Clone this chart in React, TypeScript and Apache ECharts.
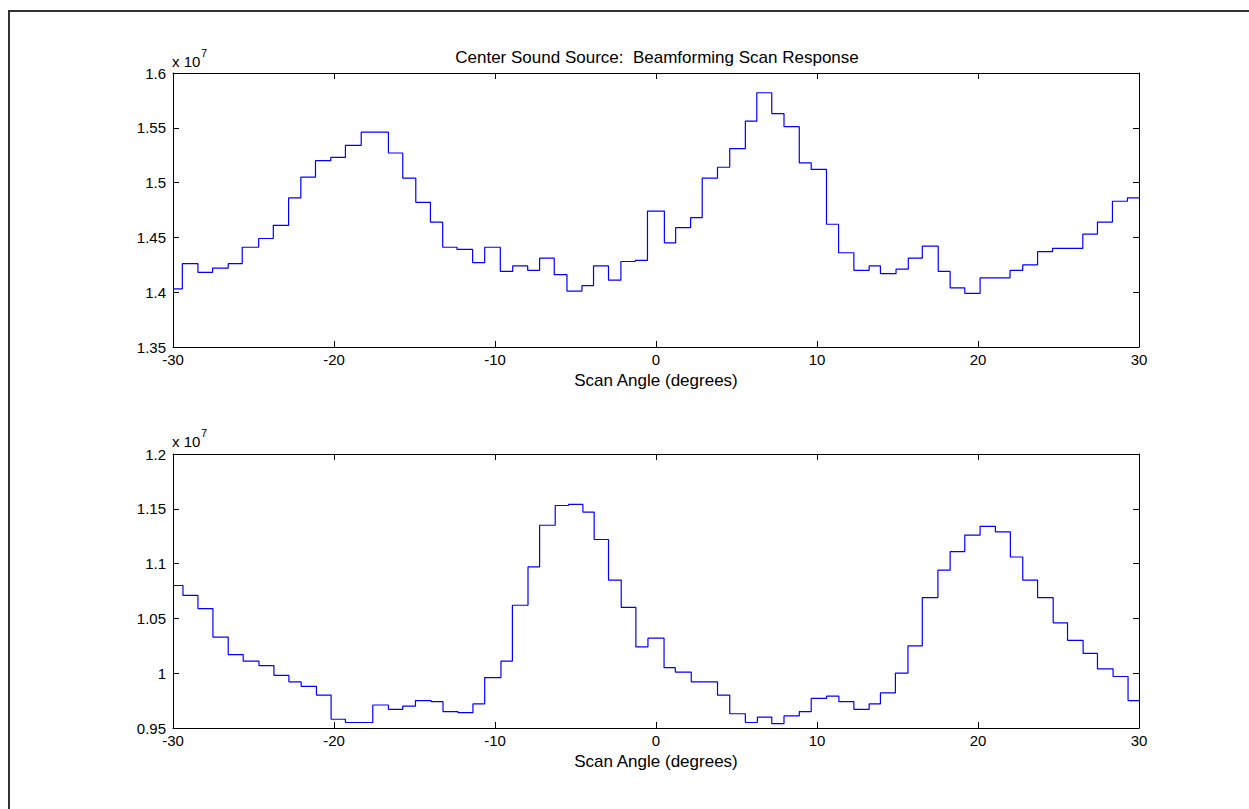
import React, { useEffect, useRef } from "react";
import * as echarts from "echarts";

// Scan angle (degrees) at which each step of the response begins, and the level (x 10^7)
const topAngles = [-30, -29.42, -28.45, -27.54, -26.57, -25.70, -24.68, -23.77, -22.82, -22.06, -21.15, -20.20, -19.29, -18.31, -16.62, -15.73, -14.92, -14.01, -13.25, -12.36, -11.39, -10.64, -9.67, -8.90, -7.97, -7.23, -6.32, -5.53, -4.60, -3.88, -2.95, -2.18, -1.29, -0.53, 0.52, 1.22, 2.15, 2.87, 3.82, 4.58, 5.55, 6.26, 7.19, 7.95, 8.90, 9.64, 10.59, 11.34, 12.29, 13.24, 13.94, 14.91, 15.67, 16.54, 17.53, 18.27, 19.18, 20.13, 21.99, 22.78, 23.70, 24.63, 26.51, 27.42, 28.35, 29.28, 30];
const topValues = [1.403, 1.426, 1.418, 1.422, 1.426, 1.441, 1.449, 1.461, 1.486, 1.505, 1.520, 1.523, 1.534, 1.546, 1.527, 1.504, 1.482, 1.464, 1.441, 1.439, 1.427, 1.441, 1.419, 1.424, 1.420, 1.431, 1.416, 1.401, 1.406, 1.424, 1.411, 1.428, 1.429, 1.474, 1.445, 1.459, 1.468, 1.504, 1.514, 1.531, 1.556, 1.582, 1.563, 1.551, 1.518, 1.512, 1.462, 1.436, 1.420, 1.424, 1.417, 1.421, 1.431, 1.442, 1.419, 1.404, 1.399, 1.413, 1.420, 1.425, 1.437, 1.440, 1.453, 1.464, 1.483, 1.486, 1.486];

const bottomAngles = [-30, -29.38, -28.45, -27.52, -26.57, -25.64, -24.66, -23.73, -22.80, -22.04, -21.09, -20.18, -19.29, -17.59, -16.62, -15.73, -14.94, -13.97, -13.23, -12.30, -11.37, -10.64, -9.63, -8.92, -7.95, -7.23, -6.26, -5.43, -4.54, -3.84, -2.95, -2.16, -1.25, -0.50, 0.50, 1.20, 2.19, 3.82, 4.58, 5.55, 6.30, 7.19, 7.95, 8.90, 9.64, 10.59, 11.36, 12.29, 13.24, 13.94, 14.87, 15.65, 16.54, 17.51, 18.27, 19.18, 20.13, 21.08, 22.01, 22.78, 23.70, 24.67, 25.56, 26.53, 27.42, 28.39, 29.32, 30];
const bottomValues = [1.080, 1.071, 1.059, 1.033, 1.017, 1.011, 1.007, 0.998, 0.992, 0.988, 0.980, 0.958, 0.955, 0.971, 0.967, 0.970, 0.975, 0.974, 0.965, 0.964, 0.972, 0.996, 1.011, 1.062, 1.097, 1.135, 1.153, 1.154, 1.147, 1.122, 1.085, 1.060, 1.024, 1.032, 1.005, 1.001, 0.992, 0.980, 0.963, 0.955, 0.960, 0.954, 0.961, 0.965, 0.977, 0.979, 0.974, 0.967, 0.972, 0.982, 1.000, 1.025, 1.069, 1.094, 1.111, 1.126, 1.134, 1.129, 1.106, 1.085, 1.069, 1.046, 1.030, 1.018, 1.004, 0.997, 0.975, 0.975];

const xRange = { min: -30, max: 30, interval: 10 };
const topRange = { min: 1.35, max: 1.6, interval: 0.05 };
const bottomRange = { min: 0.95, max: 1.2, interval: 0.05 };

const titleText = "Center Sound Source:  Beamforming Scan Response";
const xLabelText = "Scan Angle (degrees)";

const FONT = "'Liberation Sans', Arial, Helvetica, sans-serif";

const fmtY = (v: number) => String(parseFloat(v.toFixed(2)));

export default function App() {
  const ref = useRef<HTMLDivElement>(null);

  useEffect(() => {
    if (!ref.current) return;
    const chart = echarts.init(ref.current, undefined, { renderer: "svg" });

    const grids = [
      { left: 173, top: 73, width: 966, height: 274, show: false },
      { left: 173, top: 454, width: 966, height: 274, show: false },
    ];

    const lineStyle = { color: "#000", width: 1 };
    const mainX = (gridIndex: number) => ({
      type: "value",
      gridIndex,
      position: "bottom",
      ...xRange,
      axisLine: { show: true, onZero: false, lineStyle },
      axisTick: { show: true, inside: true, length: 6, lineStyle },
      axisLabel: { color: "#000", fontSize: 15, fontFamily: FONT, margin: 5 },
      splitLine: { show: false },
      name: xLabelText,
      nameLocation: "middle",
      nameGap: 25,
      nameTextStyle: { color: "#000", fontSize: 17, fontFamily: FONT },
    });
    const topX = (gridIndex: number) => ({
      type: "value",
      gridIndex,
      position: "top",
      ...xRange,
      axisLine: { show: true, onZero: false, lineStyle },
      axisTick: { show: true, inside: true, length: 6, lineStyle },
      axisLabel: { show: false },
      splitLine: { show: false },
    });
    const leftY = (gridIndex: number, r: any) => ({
      type: "value",
      gridIndex,
      position: "left",
      ...r,
      axisLine: { show: true, onZero: false, lineStyle },
      axisTick: { show: true, inside: true, length: 6, lineStyle },
      axisLabel: { color: "#000", fontSize: 15, fontFamily: FONT, margin: 7, formatter: fmtY },
      splitLine: { show: false },
    });
    const rightY = (gridIndex: number, r: any) => ({
      type: "value",
      gridIndex,
      position: "right",
      ...r,
      axisLine: { show: true, onZero: false, lineStyle },
      axisTick: { show: true, inside: true, length: 6, lineStyle },
      axisLabel: { show: false },
      splitLine: { show: false },
    });

    const topData = topAngles.map((a, i) => [a, topValues[i]]);
    const bottomData = bottomAngles.map((a, i) => [a, bottomValues[i]]);

    const option: any = {
      animation: false,
      backgroundColor: "#fff",
      grid: grids,
      xAxis: [mainX(0), topX(0), mainX(1), topX(1)],
      yAxis: [leftY(0, topRange), rightY(0, topRange), leftY(1, bottomRange), rightY(1, bottomRange)],
      series: [
        {
          type: "line",
          xAxisIndex: 0,
          yAxisIndex: 0,
          data: topData,
          step: "end",
          symbol: "none",
          silent: true,
          lineStyle: { color: "#0000ff", width: 1.2 },
        },
        {
          type: "line",
          xAxisIndex: 2,
          yAxisIndex: 2,
          data: bottomData,
          step: "end",
          symbol: "none",
          silent: true,
          lineStyle: { color: "#0000ff", width: 1.2 },
        },
      ],
      graphic: [
        {
          type: "polyline",
          shape: { points: [[9, 809], [9, 11], [1249, 11]] },
          style: { stroke: "#333", lineWidth: 2, fill: "none" },
          silent: true,
        },
        {
          type: "text",
          x: 657,
          y: 57,
          style: {
            text: titleText,
            fill: "#000",
            font: `17px ${FONT}`,
            textAlign: "center",
            textVerticalAlign: "middle",
          },
        },
        {
          type: "text",
          x: 172,
          y: 61,
          style: { text: "x 10", fill: "#000", font: `15px ${FONT}`, textAlign: "left", textVerticalAlign: "middle" },
        },
        {
          type: "text",
          x: 201,
          y: 53,
          style: { text: "7", fill: "#000", font: `11px ${FONT}`, textAlign: "left", textVerticalAlign: "middle" },
        },
        {
          type: "text",
          x: 172,
          y: 441,
          style: { text: "x 10", fill: "#000", font: `15px ${FONT}`, textAlign: "left", textVerticalAlign: "middle" },
        },
        {
          type: "text",
          x: 201,
          y: 433,
          style: { text: "7", fill: "#000", font: `11px ${FONT}`, textAlign: "left", textVerticalAlign: "middle" },
        },
      ],
    };

    chart.setOption(option);
    return () => chart.dispose();
  }, []);

  return (
    <div
      ref={ref}
      style={{ position: "fixed", left: 0, top: 0, width: 1249, height: 809, background: "#fff" }}
    />
  );
}
